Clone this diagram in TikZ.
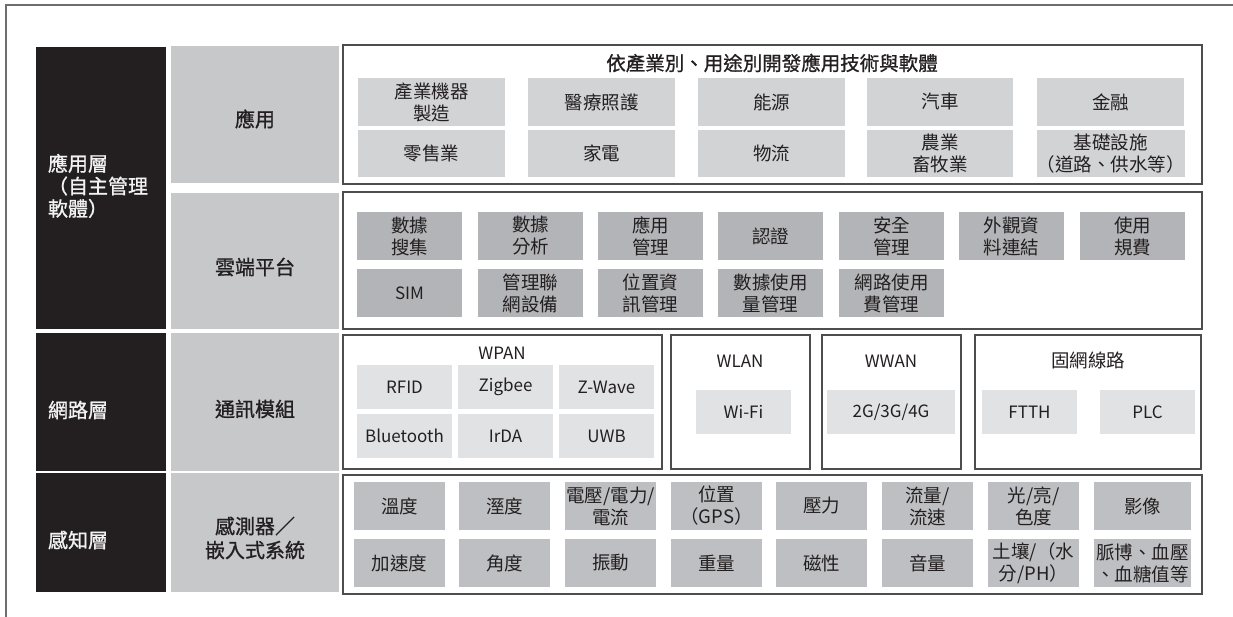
\documentclass[tikz,border=0pt]{standalone}
\usepackage{fontspec}
\setmainfont{Noto Sans CJK TC}
\newfontfamily\cjkbold[FakeBold=1]{Noto Sans CJK TC}
\definecolor{dark}{HTML}{231F20}
\definecolor{colgray}{HTML}{C7C8CA}
\definecolor{appgray}{HTML}{D2D3D5}
\definecolor{cloudgray}{HTML}{B3B4B7}
\definecolor{netgray}{HTML}{E1E2E3}
\definecolor{sensgray}{HTML}{BEBFC2}
\definecolor{panelline}{HTML}{4D4D4D}
\definecolor{framegray}{HTML}{6E6E6E}
\newcommand\lpar{\makebox[1em][r]{（}}
\newcommand\rpar{\makebox[1em][l]{）}}
\newcommand\cellbox[7]{\node[#2, minimum width={#5-#3}, minimum height={#6-#4}] (#1) at ({(#3+#5)/2},{(#4+#6)/2}) {#7};}
\tikzset{
  base/.style={inner sep=0pt, outer sep=0pt, align=center, text=dark},
  darkblk/.style={base, fill=dark},
  darklabel/.style={base, align=left, text=white!95!black, font=\cjkbold\fontsize{20}{22.5}\selectfont},
  graycol/.style={base, fill=colgray},
  graylabel/.style={base, font=\cjkbold\fontsize{20}{24}\selectfont},
  panel/.style={base, draw=panelline, line width=1.2pt, fill=white},
  itemfont/.style={font=\fontsize{18.5}{22}\selectfont},
  latin/.style={font=\fontsize{17}{19}\selectfont},
  appitem/.style={base, fill=appgray, itemfont},
  clouditem/.style={base, fill=cloudgray, itemfont},
  netitem/.style={base, fill=netgray, latin},
  sensitem/.style={base, fill=sensgray, itemfont},
  ptitle/.style={base, font=\cjkbold\fontsize{19.5}{21}\selectfont},
  ntitle/.style={base, latin},
  frame/.style={draw=framegray, line width=2pt}
}
\begin{document}
\begin{tikzpicture}[x=1pt,y=-1pt]
\useasboundingbox (0,0) rectangle (1233,617);
\draw[frame] (5.5,617) -- (5.5,5) -- (1233,5);

% dark layer column
\cellbox{d1}{darkblk}{36}{47}{166}{329}{}
\cellbox{d2}{darkblk}{36}{333}{166}{471}{}
\cellbox{d3}{darkblk}{36}{473}{166}{592}{}
\node[darklabel, anchor=west] (l1) at (48,186) {應用層\\\lpar 自主管理\\軟體\rpar};
\node[darklabel, anchor=west] (l2) at (48,410) {網路層};
\node[darklabel, anchor=west] (l3) at (48,540) {感知層};

% gray column
\cellbox{g1}{graycol}{171}{46}{339}{183}{}
\cellbox{g2}{graycol}{171}{193}{339}{329}{}
\cellbox{g3}{graycol}{171}{333}{339}{471}{}
\cellbox{g4}{graycol}{171}{473}{339}{592}{}
\node[graylabel] (g1t) at (255,119) {應用};
\node[graylabel] (g2t) at (255,267) {雲端平台};
\node[graylabel] (g3t) at (255,409) {通訊模組};
\node[graylabel] (g4t) at (255,538) {感測器／\\嵌入式系統};

% panels
\cellbox{p1}{panel}{343}{45}{1202}{184}{}
\cellbox{p2}{panel}{343}{192}{1202}{329}{}
\cellbox{pw}{panel}{343}{335}{662}{469}{}
\cellbox{pl}{panel}{671}{335}{810}{469}{}
\cellbox{pn}{panel}{822}{335}{961}{469}{}
\cellbox{pf}{panel}{975}{335}{1201}{469}{}
\cellbox{p4}{panel}{343}{475}{1202}{594}{}

% application panel
\node[ptitle] (apptitle) at (772,63) {依產業別、用途別開發應用技術與軟體};
\cellbox{a11}{appitem}{358}{78}{505}{126}{產業機器\\製造}
\cellbox{a12}{appitem}{528}{78}{675}{126}{醫療照護}
\cellbox{a13}{appitem}{698}{78}{845}{126}{能源}
\cellbox{a14}{appitem}{867}{78}{1013}{126}{汽車}
\cellbox{a15}{appitem}{1037}{78}{1184}{126}{金融}
\cellbox{a21}{appitem}{358}{130}{505}{177}{零售業}
\cellbox{a22}{appitem}{528}{130}{675}{177}{家電}
\cellbox{a23}{appitem}{698}{130}{845}{177}{物流}
\cellbox{a24}{appitem}{867}{130}{1013}{177}{農業\\畜牧業}
\cellbox{a25}{appitem}{1037}{130}{1184}{177}{基礎設施\\\lpar 道路、供水等\rpar}

% cloud panel
\cellbox{c11}{clouditem}{357}{212}{462}{260}{數據\\搜集}
\cellbox{c12}{clouditem}{478}{212}{583}{260}{數據\\分析}
\cellbox{c13}{clouditem}{598}{212}{703}{260}{應用\\管理}
\cellbox{c14}{clouditem}{718}{212}{823}{260}{認證}
\cellbox{c15}{clouditem}{839}{212}{944}{260}{安全\\管理}
\cellbox{c16}{clouditem}{959}{212}{1064}{260}{外觀資\\料連結}
\cellbox{c17}{clouditem}{1080}{212}{1185}{260}{使用\\規費}
\cellbox{c21}{clouditem}{357}{269}{462}{317}{\fontsize{17}{19}\selectfont SIM}
\cellbox{c22}{clouditem}{478}{269}{583}{317}{管理聯\\網設備}
\cellbox{c23}{clouditem}{598}{269}{703}{317}{位置資\\訊管理}
\cellbox{c24}{clouditem}{718}{269}{823}{317}{數據使用\\量管理}
\cellbox{c25}{clouditem}{839}{269}{944}{317}{網路使用\\費管理}

% network panels
\node[ntitle] (wpan) at (502,353) {WPAN};
\cellbox{n11}{netitem}{357}{365}{452}{409}{RFID}
\cellbox{n12}{netitem}{458}{365}{553}{409}{Zigbee}
\cellbox{n13}{netitem}{559}{365}{654}{409}{Z-Wave}
\cellbox{n21}{netitem}{357}{414}{452}{458}{Bluetooth}
\cellbox{n22}{netitem}{458}{414}{553}{458}{IrDA}
\cellbox{n23}{netitem}{559}{414}{654}{458}{UWB}
\node[ntitle] (wlan) at (740,361) {WLAN};
\cellbox{wifi}{netitem}{696}{390}{791}{434}{Wi-Fi}
\node[ntitle] (wwan) at (891,361) {WWAN};
\cellbox{g234}{netitem}{827}{390}{955}{434}{2G/3G/4G}
\node[base, itemfont] (fixed) at (1088,360) {固網線路};
\cellbox{ftth}{netitem}{982}{390}{1077}{434}{FTTH}
\cellbox{plc}{netitem}{1100}{390}{1195}{434}{PLC}

% sensor panel
\cellbox{s11}{sensitem}{354}{482}{445}{530}{溫度}
\cellbox{s12}{sensitem}{459}{482}{550}{530}{溼度}
\cellbox{s13}{sensitem}{565}{482}{656}{530}{電壓/電力/\\電流}
\cellbox{s14}{sensitem}{671}{482}{762}{530}{位置\\\lpar GPS\rpar}
\cellbox{s15}{sensitem}{776}{482}{867}{530}{壓力}
\cellbox{s16}{sensitem}{882}{482}{973}{530}{流量/\\流速}
\cellbox{s17}{sensitem}{988}{482}{1079}{530}{光/亮/\\色度}
\cellbox{s18}{sensitem}{1094}{482}{1191}{530}{影像}
\cellbox{s21}{sensitem}{354}{539}{445}{587}{加速度}
\cellbox{s22}{sensitem}{459}{539}{550}{587}{角度}
\cellbox{s23}{sensitem}{565}{539}{656}{587}{振動}
\cellbox{s24}{sensitem}{671}{539}{762}{587}{重量}
\cellbox{s25}{sensitem}{776}{539}{867}{587}{磁性}
\cellbox{s26}{sensitem}{882}{539}{973}{587}{音量}
\cellbox{s27}{sensitem}{988}{539}{1079}{587}{土壤/\lpar 水\\分/PH\rpar}
\cellbox{s28}{sensitem}{1094}{539}{1191}{587}{脈博、血壓\\、血糖值等}
\end{tikzpicture}
\end{document}
